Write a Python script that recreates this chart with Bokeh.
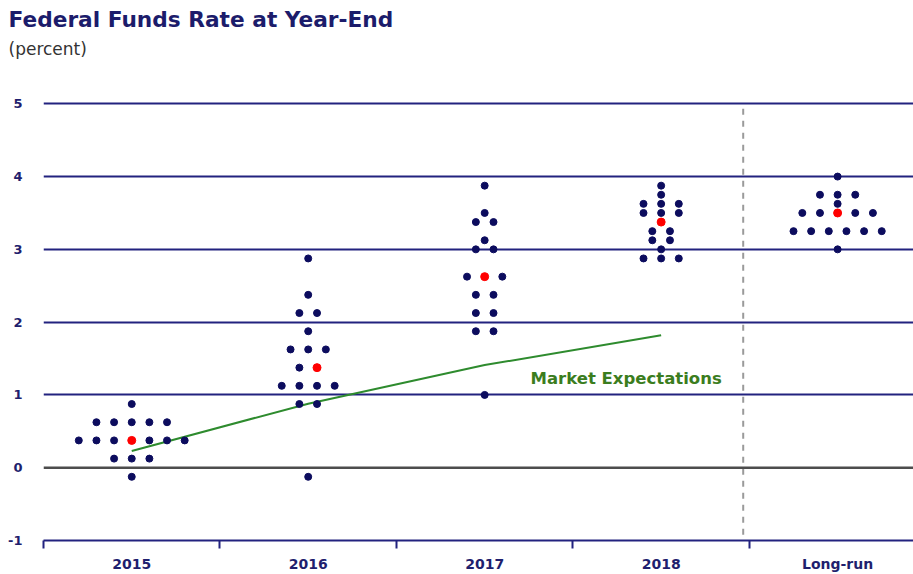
from collections import Counter

from bokeh.plotting import figure
from bokeh.models import Range1d, FixedTicker, Span, Label, Title
from bokeh.embed import file_html
from bokeh.resources import INLINE

# ---------------- data ----------------
categories = ["2015", "2016", "2017", "2018", "Long-run"]

proj_2015 = [-0.125,
             0.125, 0.125, 0.125,
             0.375, 0.375, 0.375, 0.375, 0.375, 0.375, 0.375,
             0.625, 0.625, 0.625, 0.625, 0.625,
             0.875]
proj_2016 = [-0.125,
             0.875, 0.875,
             1.125, 1.125, 1.125, 1.125,
             1.375, 1.375,
             1.625, 1.625, 1.625,
             1.875,
             2.125, 2.125,
             2.375,
             2.875]
proj_2017 = [1.0,
             1.875, 1.875,
             2.125, 2.125,
             2.375, 2.375,
             2.625, 2.625, 2.625,
             3.0, 3.0,
             3.125,
             3.375, 3.375,
             3.5,
             3.875]
proj_2018 = [2.875, 2.875, 2.875,
             3.0,
             3.125, 3.125,
             3.25, 3.25,
             3.375,
             3.5, 3.5, 3.5,
             3.625, 3.625, 3.625,
             3.75,
             3.875]
proj_longrun = [3.0,
                3.25, 3.25, 3.25, 3.25, 3.25, 3.25,
                3.5, 3.5, 3.5, 3.5, 3.5,
                3.625,
                3.75, 3.75, 3.75,
                4.0]

market_years = ["2015", "2016", "2017", "2018"]
market_exp = [0.23, 0.88, 1.41, 1.82]

y_ticks = [-1, 0, 1, 2, 3, 4, 5]

title_text = "Federal Funds Rate at Year-End"
subtitle_text = "(percent)"

# ---------------- styles ----------------
NAVY = "#0c0c5e"
GRID = "#22227f"
LABEL = "#1f1f6e"
DOT_STEP = 0.1
BORDER_LEFT = 43

# ---------------- dots ----------------
all_proj = [proj_2015, proj_2016, proj_2017, proj_2018, proj_longrun]

xs, ys, red_x, red_y = [], [], [], []
for i, vals in enumerate(all_proj):
    med = sorted(vals)[len(vals) // 2]
    counts = Counter(vals)
    for v, n in counts.items():
        for j in range(n):
            x = i + 0.5 + (j - (n - 1) / 2) * DOT_STEP
            if v == med and j == n // 2:
                red_x.append(x)
                red_y.append(v)
            else:
                xs.append(x)
                ys.append(v)

p = figure(width=913, height=574, output_backend="svg", toolbar_location=None,
           x_range=Range1d(0, 4.93), y_range=Range1d(-1, 5.1),
           min_border_left=BORDER_LEFT, min_border_right=0, min_border_top=96,
           min_border_bottom=33, title=None)
p.outline_line_color = None
p.background_fill_color = "white"
p.border_fill_color = "white"

# title block: stacked upward from the frame (first added = closest to frame)
p.add_layout(Title(text=" ", text_font_size="1px", standoff=35), "above")
p.add_layout(Title(text=subtitle_text, align="left", offset=-35, standoff=0,
                   text_font="DejaVu Sans", text_font_size="17px",
                   text_font_style="normal", text_color="#333333"), "above")
p.add_layout(Title(text=title_text, align="left", offset=-35, standoff=9,
                   text_font="DejaVu Sans", text_font_size="21.7px",
                   text_font_style="bold", text_color="#1c1c6b"), "above")

# grid
p.xgrid.visible = False
p.ygrid.ticker = FixedTicker(ticks=[t for t in y_ticks if t > 0])
p.ygrid.grid_line_color = GRID
p.ygrid.grid_line_width = 2

p.add_layout(Span(location=0, dimension="width", line_color="#4d4d4d", line_width=2.5))
p.segment(x0=[3.965], y0=[y_ticks[-1] - 0.07], x1=[3.965], y1=[y_ticks[0]],
          line_color="#9a9a9a", line_width=2, line_dash="6 6")

# y axis
p.yaxis.ticker = FixedTicker(ticks=y_ticks)
p.yaxis.major_label_overrides = {t: str(t) for t in y_ticks}
p.yaxis.axis_line_color = None
p.yaxis.major_tick_line_color = None
p.yaxis.minor_tick_line_color = None
p.yaxis.major_tick_out = 0
p.yaxis.major_label_standoff = 21
p.yaxis.major_label_text_font = "DejaVu Sans"
p.yaxis.major_label_text_font_style = "bold"
p.yaxis.major_label_text_font_size = "13px"
p.yaxis.major_label_text_color = LABEL

# x axis
centers = [i + 0.5 for i in range(len(categories))]
p.xaxis.ticker = FixedTicker(ticks=centers, minor_ticks=list(range(len(categories))))
p.xaxis.major_label_overrides = {c: name for c, name in zip(centers, categories)}
p.xaxis.axis_line_color = GRID
p.xaxis.axis_line_width = 2
p.xaxis.major_tick_line_color = None
p.xaxis.minor_tick_line_color = GRID
p.xaxis.minor_tick_line_width = 2
p.xaxis.minor_tick_in = 0
p.xaxis.minor_tick_out = 8
p.xaxis.major_tick_out = 0
p.xaxis.major_tick_in = 0
p.xaxis.major_label_standoff = 7
p.xaxis.major_label_text_font = "DejaVu Sans"
p.xaxis.major_label_text_font_style = "bold"
p.xaxis.major_label_text_font_size = "14px"
p.xaxis.major_label_text_color = LABEL

# market expectations line
mx = [categories.index(y) + 0.5 for y in market_years]
p.line(mx, market_exp, line_color="#2e8b2e", line_width=2)
p.add_layout(Label(x=2.76, y=1.22, text="Market Expectations",
                   text_font="DejaVu Sans", text_font_style="bold",
                   text_font_size="16.5px", text_color="#3b7d1e",
                   text_baseline="middle", text_align="left"))

# dots
p.scatter(xs, ys, size=7, fill_color=NAVY, line_color=NAVY)
p.scatter(red_x, red_y, size=8, fill_color="#ff0000", line_color="#ff0000")

open("out.html", "w").write(file_html(p, INLINE))
